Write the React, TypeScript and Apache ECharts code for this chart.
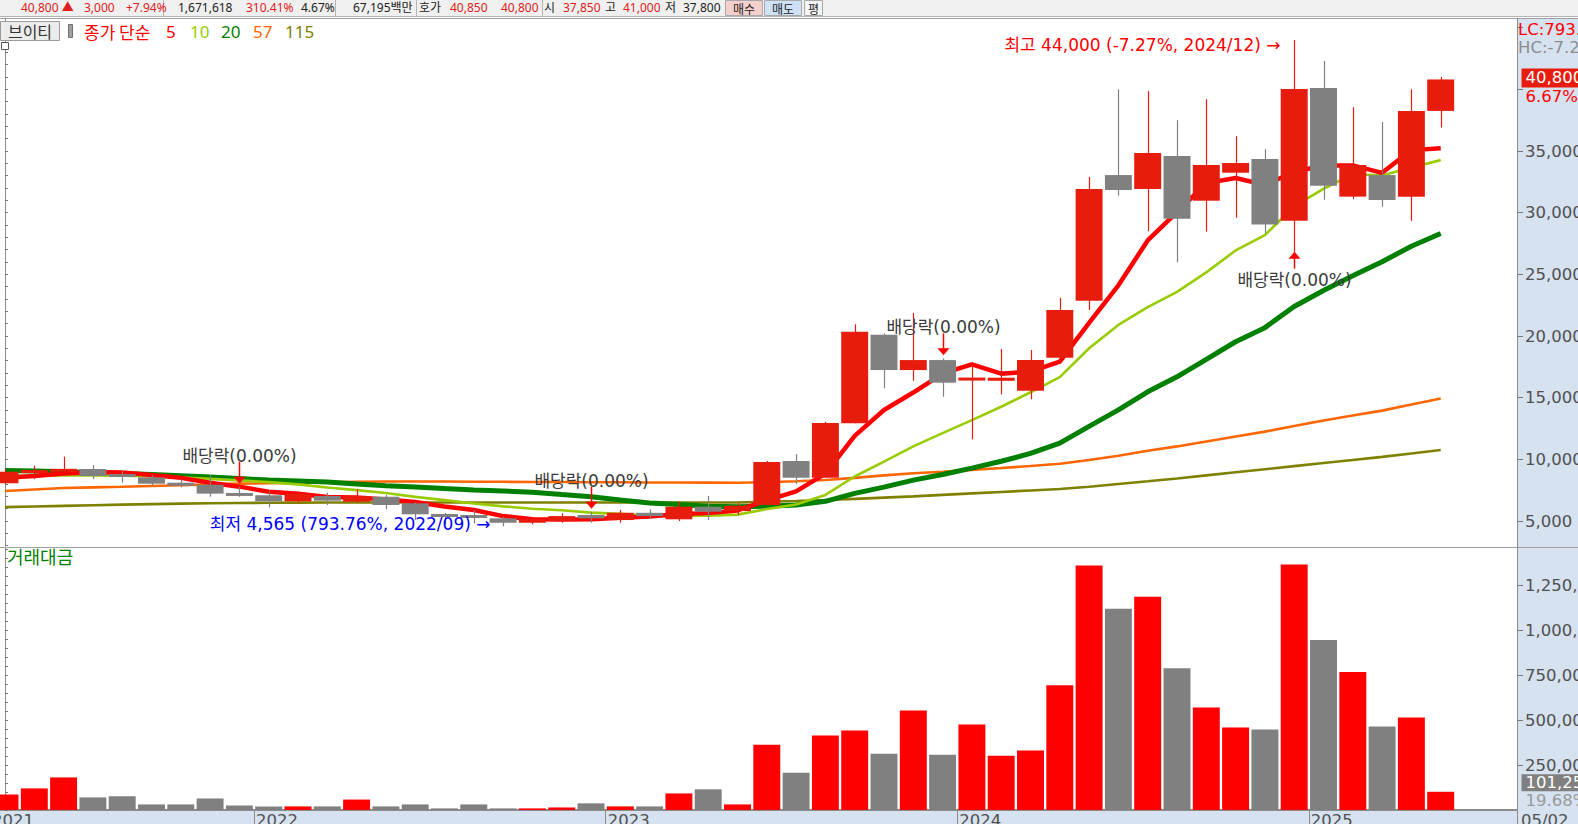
import React, { useEffect, useRef } from "react";
import * as echarts from "echarts";

// ---------------- data ----------------
const MONTHS = [
  "2021/04", "2021/05", "2021/06", "2021/07", "2021/08", "2021/09", "2021/10", "2021/11", "2021/12",
  "2022/01", "2022/02", "2022/03", "2022/04", "2022/05", "2022/06", "2022/07", "2022/08", "2022/09", "2022/10", "2022/11", "2022/12",
  "2023/01", "2023/02", "2023/03", "2023/04", "2023/05", "2023/06", "2023/07", "2023/08", "2023/09", "2023/10", "2023/11", "2023/12",
  "2024/01", "2024/02", "2024/03", "2024/04", "2024/05", "2024/06", "2024/07", "2024/08", "2024/09", "2024/10", "2024/11", "2024/12",
  "2025/01", "2025/02", "2025/03", "2025/04", "2025/05",
];

const OPEN = [8060, 8890, 9000, 9220, 8730, 8540, 8025, 7950, 7220, 7090, 6600, 7030, 6570, 6970, 6435, 5545, 5460, 5220, 4860, 5025, 5490, 5080, 5670, 5140, 6160, 5810, 6300, 9865, 8510, 12920, 20100, 17240, 18050, 16400, 16370, 15565, 18240, 22860, 33050, 31920, 34600, 30970, 33240, 34350, 29350, 40100, 31300, 33050, 31300, 38250];
const HIGH = [9220, 9480, 10220, 9540, 9080, 8730, 8380, 8730, 7780, 7380, 7380, 7300, 7600, 7110, 6520, 5670, 5890, 5350, 5300, 5625, 5760, 5890, 5950, 6565, 7030, 6435, 9865, 10430, 13050, 20950, 20220, 21870, 18190, 17650, 18950, 18865, 23100, 32900, 40000, 39850, 37500, 39200, 36200, 35150, 44000, 42300, 38550, 37350, 40000, 41000];
const LOW = [8000, 8400, 8920, 8400, 8110, 7840, 7730, 6970, 6970, 6110, 6480, 6300, 6480, 5950, 5080, 4735, 4810, 4565, 4735, 4860, 4860, 4860, 5220, 5000, 5080, 5490, 6300, 8000, 8510, 12920, 15760, 16375, 15080, 11620, 15270, 14870, 18000, 22110, 31380, 28500, 25980, 28460, 29590, 28330, 26430, 31050, 31100, 30480, 29330, 36900];
const CLOSE = [9000, 9135, 9220, 8650, 8650, 8025, 7950, 7220, 7090, 6600, 7190, 6650, 7030, 6300, 5545, 5350, 5270, 4860, 5160, 5400, 5220, 5670, 5400, 6160, 5755, 6240, 9780, 8510, 12946, 20350, 17240, 18050, 16215, 16620, 16620, 18050, 22110, 31920, 31840, 34840, 29510, 33865, 34030, 29050, 40030, 32190, 33865, 31030, 38250, 40800];

const VOLUME = [86000, 120000, 181000, 70000, 76000, 31000, 31000, 64000, 25000, 20000, 20000, 20000, 58000, 20000, 31000, 9000, 31000, 9000, 9000, 14000, 37000, 20000, 20000, 92000, 115000, 31000, 363000, 207000, 414000, 442000, 313000, 553000, 307000, 475000, 302000, 330000, 693000, 1359000, 1118000, 1185000, 788000, 570000, 458000, 447000, 1364000, 945000, 766000, 464000, 514500, 101250];

const MA5 = [8500, 8650, 8850, 8950, 8931, 8736, 8499, 8099, 7787, 7377, 7210, 6950, 6912, 6754, 6543, 6175, 5899, 5400, 5150, 5120, 5140, 5262, 5370, 5570, 5641, 5857, 6679, 7400, 8850, 11900, 14000, 15419, 16960, 17695, 16949, 17111, 17923, 21064, 24108, 27751, 30043, 32394, 32816, 32258, 33296, 33832, 33832, 33232, 35072, 35226];
const MA10 = [8650, 8680, 8700, 8700, 8680, 8620, 8540, 8420, 8300, 8154, 7973, 7725, 7506, 7271, 6960, 6693, 6425, 6189, 5996, 5876, 5679, 5581, 5418, 5404, 5425, 5520, 5971, 6336, 7114, 8609, 9811, 11049, 12131, 13177, 14263, 15438, 16671, 19012, 20901, 22350, 23577, 25159, 26940, 28183, 30524, 31938, 33113, 33024, 33665, 34261];
const MA20 = [9100, 9060, 9000, 8930, 8860, 8780, 8680, 8570, 8450, 8320, 8240, 8160, 8000, 7860, 7750, 7630, 7520, 7440, 7340, 7150, 6970, 6700, 6460, 6340, 6200, 6150, 6200, 6300, 6600, 7242, 7745, 8315, 8774, 9290, 9844, 10479, 11321, 12674, 14008, 15480, 16694, 18104, 19535, 20680, 22393, 23688, 24892, 26018, 27283, 28306];
const MA57 = [7430, 7560, 7680, 7730, 7780, 7840, 7900, 7970, 8030, 8060, 8100, 8140, 8180, 8200, 8200, 8200, 8190, 8180, 8170, 8160, 8150, 8140, 8130, 8120, 8110, 8100, 8150, 8220, 8330, 8500, 8700, 8870, 9000, 9150, 9300, 9460, 9650, 9950, 10300, 10700, 11050, 11450, 11850, 12250, 12700, 13150, 13550, 13950, 14450, 14930];
const MA115 = [6130, 6180, 6230, 6280, 6330, 6370, 6410, 6440, 6460, 6480, 6490, 6500, 6500, 6500, 6500, 6500, 6500, 6500, 6500, 6500, 6500, 6500, 6500, 6500, 6500, 6500, 6560, 6620, 6700, 6800, 6900, 7000, 7120, 7240, 7360, 7480, 7600, 7780, 8000, 8220, 8450, 8700, 8950, 9200, 9450, 9700, 9950, 10200, 10480, 10760];

const PRICE_LABELS = [5000, 10000, 15000, 20000, 25000, 30000, 35000];
const PRICE_MAJOR_TICKS = [5000, 10000, 15000, 20000, 25000, 30000, 35000, 40000, 45000];
const VOLUME_LABELS = [250000, 500000, 750000, 1000000, 1250000];

// event markers
const DIVIDEND_DOWN = [8, 20, 32];
const DIVIDEND_UP = [44];
const HIGH_MARK = { index: 44, price: 44000, text: "최고 44,000 (-7.27%, 2024/12) →" };
const LOW_MARK = { index: 17, price: 4565, text: "최저 4,565 (793.76%, 2022/09) →" };
const DIVIDEND_TEXT = "배당락(0.00%)";

const LAST_CHANGE_TEXT = "6.67%";
const LAST_VOLUME_RATIO_TEXT = "19.68%";
const LC_TEXT = "LC:793.76%";
const HC_TEXT = "HC:-7.27%";
const CURRENT_DATE_TEXT = "05/02";
const FIRST_YEAR_TEXT = "2021";

const LEGEND = [
  { text: "종가 단순", x: 84, color: "#ff0000" },
  { text: "5", x: 166, color: "#ff0000" },
  { text: "10", x: 190, color: "#99cc00" },
  { text: "20", x: 221, color: "#008000" },
  { text: "57", x: 253, color: "#ff6600" },
  { text: "115", x: 285, color: "#808000" },
];

const TOP_ITEMS: [string, number, string][] = [
  ["40,800 ▲", 21, "#e02020"], ["3,000", 84, "#e02020"], ["+7.94%", 126, "#e02020"],
  ["1,671,618", 178, "#222"], ["310.41%", 246, "#e02020"], ["4.67%", 301, "#222"],
  ["67,195백만", 353, "#222"], ["호가", 419, "#222"], ["40,850", 450, "#e02020"], ["40,800", 501, "#e02020"],
  ["시", 544, "#222"], ["37,850", 563, "#e02020"], ["고", 605, "#222"], ["41,000", 623, "#e02020"],
  ["저", 665, "#222"], ["37,800", 683, "#222"],
];
const TOP_DIVIDERS = [163, 335, 416, 542];
const TOP_BUTTONS: [string, number, number, string][] = [
  ["매수", 725, 37, "#f4cfcc"], ["매도", 764, 37, "#cfe1f6"], ["평", 804, 18, "#f6f6f6"],
];

// ---------------- style ----------------
const KR = '"Noto Sans CJK KR", "Noto Sans", sans-serif';
const NUM = '"Noto Sans", "Noto Sans CJK KR", sans-serif';
const WIDE = '"DejaVu Sans", "Noto Sans CJK KR", sans-serif';
const AXIS_FS = 16.5;
const CANDLE_UP = "#e81c0c";
const CANDLE_DOWN = "#808080";
const VOL_UP = "#ff0000";
const VOL_DOWN = "#808080";
const STRIP = "#d6e2f0";
const AXIS_GREY = "#8c8c8c";
const AXIS_TEXT = "#505050";

const PLOT_W = 1517;
const SLOT = 29.3;
const X_MIN = -5 / SLOT;
const X_MAX = X_MIN + PLOT_W / SLOT;

const fmt = (v: number) => Math.round(v).toLocaleString("en-US");

const YEAR_TICKS: number[] = [];
const YEAR_NAMES: string[] = [];
MONTHS.forEach((m, i) => {
  if (m.endsWith("/01")) {
    YEAR_TICKS.push(i - 0.5);
    YEAR_NAMES.push(m.slice(0, 4));
  }
});

function txt(text: string, x: number, y: number, fill: string, size: number, family: string, align = "left", valign = "middle") {
  return {
    type: "text",
    x,
    y,
    z: 100,
    silent: true,
    style: {
      text,
      fill,
      fontSize: size,
      fontFamily: family,
      align,
      textAlign: align,
      verticalAlign: valign,
      textVerticalAlign: valign,
    },
  };
}

function buildOption() {
  const candleData = MONTHS.map((_, i) => [i, OPEN[i], CLOSE[i], LOW[i], HIGH[i]]);
  const volumeData = MONTHS.map((_, i) => [i, VOLUME[i], CLOSE[i] >= OPEN[i] ? 1 : 0]);
  const eventData: number[][] = [];
  DIVIDEND_DOWN.forEach((i) => eventData.push([i, HIGH[i], 0]));
  DIVIDEND_UP.forEach((i) => eventData.push([i, LOW[i], 1]));
  eventData.push([HIGH_MARK.index, HIGH_MARK.price, 2]);
  eventData.push([LOW_MARK.index, LOW_MARK.price, 3]);
  const last = MONTHS.length - 1;

  const renderCandle = (params: any, api: any) => {
    const x = api.value(0), o = api.value(1), c = api.value(2), l = api.value(3), h = api.value(4);
    const color = c >= o ? CANDLE_UP : CANDLE_DOWN;
    const pO = api.coord([x, o]), pC = api.coord([x, c]), pL = api.coord([x, l]), pH = api.coord([x, h]);
    const bw = api.size([1, 0])[0] * 0.92;
    const cx = Math.round(pO[0]) + 0.5;
    let top = Math.min(pO[1], pC[1]);
    let bh = Math.abs(pO[1] - pC[1]);
    if (bh < 3) {
      top -= (3 - bh) / 2;
      bh = 3;
    }
    return {
      type: "group",
      children: [
        { type: "line", shape: { x1: cx, y1: pH[1], x2: cx, y2: pL[1] }, style: { stroke: color, lineWidth: 1.2 } },
        { type: "rect", shape: { x: pO[0] - bw / 2, y: top, width: bw, height: bh }, style: { fill: color } },
      ],
    };
  };

  const renderVolume = (params: any, api: any) => {
    const x = api.value(0), v = api.value(1), up = api.value(2);
    const p0 = api.coord([x, 0]), p1 = api.coord([x, v]);
    const bw = api.size([1, 0])[0] * 0.92;
    return {
      type: "rect",
      shape: { x: p1[0] - bw / 2, y: p1[1], width: bw, height: p0[1] - p1[1] },
      style: { fill: up ? VOL_UP : VOL_DOWN },
    };
  };

  const renderEvent = (params: any, api: any) => {
    const x = api.value(0), v = api.value(1), kind = api.value(2);
    const p = api.coord([x, v]);
    const px = Math.round(p[0]) + 0.5;
    if (kind === 0) {
      const tip = p[1] - 3;
      return {
        type: "group",
        children: [
          { type: "line", shape: { x1: px, y1: tip - 22, x2: px, y2: tip - 6 }, style: { stroke: "#ff0000", lineWidth: 1.5 } },
          { type: "polygon", shape: { points: [[px - 6, tip - 7], [px + 6, tip - 7], [px, tip]] }, style: { fill: "#ff0000" } },
          txt(DIVIDEND_TEXT, px, tip - 28, "#3a3a3a", 17, WIDE, "center"),
        ],
      };
    }
    if (kind === 1) {
      const tip = p[1] - 5;
      return {
        type: "group",
        children: [
          { type: "line", shape: { x1: px, y1: tip + 6, x2: px, y2: tip + 17 }, style: { stroke: "#ff0000", lineWidth: 1.5 } },
          { type: "polygon", shape: { points: [[px - 6, tip + 7], [px + 6, tip + 7], [px, tip]] }, style: { fill: "#ff0000" } },
          txt(DIVIDEND_TEXT, px, tip + 28, "#3a3a3a", 17, WIDE, "center"),
        ],
      };
    }
    if (kind === 2) {
      return txt(HIGH_MARK.text, px - 14, p[1] + 5, "#ff0000", 17, WIDE, "right");
    }
    return txt(LOW_MARK.text, px - 13, p[1] - 2, "#0000ff", 17, WIDE, "right");
  };

  const renderLastPrice = (params: any, api: any) => {
    const cs = params.coordSys;
    const v = api.value(1);
    const p = api.coord([api.value(0), v]);
    const x0 = cs.x + cs.width + 4.5;
    const cy = p[1] - 1.5;
    return {
      type: "group",
      children: [
        { type: "rect", shape: { x: x0, y: cy - 9.5, width: 80, height: 19 }, style: { fill: "#e81c0c" } },
        txt(fmt(v), x0 + 4, cy, "#ffffff", AXIS_FS, WIDE),
        txt(LAST_CHANGE_TEXT, x0 + 4, cy + 19, "#ff0000", AXIS_FS, WIDE),
      ],
    };
  };

  const renderLastVolume = (params: any, api: any) => {
    const cs = params.coordSys;
    const v = api.value(1);
    const p = api.coord([api.value(0), v]);
    const x0 = cs.x + cs.width + 4.5;
    const cy = p[1] - 9;
    return {
      type: "group",
      children: [
        { type: "rect", shape: { x: x0, y: cy - 8.5, width: 80, height: 17 }, style: { fill: "#808080" } },
        txt(fmt(v), x0 + 4, cy, "#ffffff", AXIS_FS, WIDE),
        txt(LAST_VOLUME_RATIO_TEXT, x0 + 4, cy + 18, "#9a9a9a", AXIS_FS, WIDE),
      ],
    };
  };

  const maLine = (name: string, data: number[], color: string, width: number, z: number) => ({
    name,
    type: "line",
    xAxisIndex: 0,
    yAxisIndex: 0,
    data: data.map((v, i) => [i, v]),
    symbol: "none",
    silent: true,
    z,
    lineStyle: { color, width },
  });

  const graphic: any[] = [
    { type: "rect", z: -100, silent: true, shape: { x: PLOT_W, y: 18, width: 1578 - PLOT_W, height: 806 }, style: { fill: STRIP } },
    { type: "rect", z: -100, silent: true, shape: { x: 0, y: 811, width: 1578, height: 13 }, style: { fill: STRIP } },
    { type: "rect", z: 50, silent: true, shape: { x: 0, y: 0, width: 1578, height: 16 }, style: { fill: "#f0f0f0" } },
    { type: "line", z: 50, silent: true, shape: { x1: 0, y1: 16.5, x2: 1578, y2: 16.5 }, style: { stroke: "#b4b4b4", lineWidth: 1 } },
    { type: "line", z: 50, silent: true, shape: { x1: 0, y1: 18.5, x2: 1578, y2: 18.5 }, style: { stroke: "#a0a0a0", lineWidth: 1 } },
    { type: "line", z: 50, silent: true, shape: { x1: 0, y1: 547.5, x2: 1578, y2: 547.5 }, style: { stroke: "#a0a0a0", lineWidth: 1 } },
    { type: "line", z: 50, silent: true, shape: { x1: PLOT_W + 0.5, y1: 18, x2: PLOT_W + 0.5, y2: 824 }, style: { stroke: AXIS_GREY, lineWidth: 1 } },
  ];
  TOP_DIVIDERS.forEach((x) =>
    graphic.push({ type: "line", z: 60, silent: true, shape: { x1: x + 0.5, y1: 0, x2: x + 0.5, y2: 16 }, style: { stroke: "#b4b4b4", lineWidth: 1 } })
  );
  TOP_ITEMS.forEach(([t, x, c]) => graphic.push(txt(t, x, 7, c, 12, NUM)));
  TOP_BUTTONS.forEach(([t, x, w, c]) => {
    graphic.push({ type: "rect", z: 60, silent: true, shape: { x: x + 0.5, y: 0.5, width: w, height: 15 }, style: { fill: c, stroke: "#a8a8a8", lineWidth: 1 } });
    graphic.push(txt(t, x + w / 2 + 0.5, 8, "#222", 12, KR, "center"));
  });
  graphic.push({ type: "rect", z: 60, silent: true, shape: { x: 0.5, y: 21.5, width: 59, height: 19 }, style: { fill: "#ececec", stroke: "#9a9a9a", lineWidth: 1 } });
  graphic.push(txt("브이티", 30, 31, "#333", 16, KR, "center"));
  graphic.push({ type: "rect", z: 60, silent: true, shape: { x: 68.5, y: 24.5, width: 4, height: 13 }, style: { fill: "#a0a0a0", stroke: "#707070", lineWidth: 1 } });
  graphic.push({ type: "rect", z: 60, silent: true, shape: { x: 1.5, y: 42.5, width: 7, height: 7 }, style: { fill: "#ffffff", stroke: "#555", lineWidth: 1 } });
  LEGEND.forEach((l) => graphic.push(txt(l.text, l.x, 31, l.color, 17, /[가-힣]/.test(l.text) ? KR : NUM)));
  graphic.push(txt(LC_TEXT, 1518, 29, "#ff0000", AXIS_FS, WIDE));
  graphic.push(txt(HC_TEXT, 1518, 47, "#8c8c8c", AXIS_FS, WIDE));
  graphic.push(txt("거래대금", 7, 556, "#008000", 18, KR));
  graphic.push(txt(FIRST_YEAR_TEXT, -8, 812, AXIS_TEXT, AXIS_FS, WIDE, "left", "top"));
  graphic.push(txt(CURRENT_DATE_TEXT, 1521, 812, AXIS_TEXT, AXIS_FS, WIDE, "left", "top"));

  return {
    animation: false,
    backgroundColor: "#ffffff",
    textStyle: { fontFamily: NUM },
    grid: [
      { left: 0, top: 18, width: PLOT_W, height: 527.7, outerBoundsMode: "none", containLabel: false },
      { left: 0, top: 547, width: PLOT_W, height: 263, outerBoundsMode: "none", containLabel: false },
    ],
    xAxis: [
      { type: "value", gridIndex: 0, min: X_MIN, max: X_MAX, show: false },
      {
        type: "value",
        gridIndex: 1,
        min: X_MIN,
        max: X_MAX,
        axisLine: { show: true, onZero: false, lineStyle: { color: AXIS_GREY, width: 2 } },
        axisTick: { show: true, customValues: YEAR_TICKS, length: 15, lineStyle: { color: AXIS_GREY, width: 1 } },
        axisLabel: {
          show: true,
          customValues: YEAR_TICKS,
          formatter: (v: number) => {
            const k = YEAR_TICKS.findIndex((t) => Math.abs(t - v) < 0.01);
            return k >= 0 ? YEAR_NAMES[k] : "";
          },
          align: "left",
          margin: 2,
          padding: [0, 0, 0, 2],
          color: AXIS_TEXT,
          fontSize: AXIS_FS,
          fontFamily: WIDE,
        },
        splitLine: { show: false },
      },
    ],
    yAxis: [
      {
        type: "value",
        gridIndex: 0,
        position: "right",
        min: 3000,
        max: 45784,
        interval: 1000,
        axisLine: { show: true, lineStyle: { color: AXIS_GREY, width: 1 } },
        axisTick: { show: true, length: 3, lineStyle: { color: "#777" } },
        axisLabel: { show: true, customValues: PRICE_LABELS, formatter: fmt, margin: 8, color: AXIS_TEXT, fontSize: AXIS_FS, fontFamily: WIDE },
        splitLine: { show: false },
      },
      {
        type: "value",
        gridIndex: 0,
        position: "right",
        min: 3000,
        max: 45784,
        axisLine: { show: false },
        axisTick: { show: true, customValues: PRICE_MAJOR_TICKS, length: 6, lineStyle: { color: "#777" } },
        axisLabel: { show: false },
        splitLine: { show: false },
      },
      {
        type: "value",
        gridIndex: 1,
        position: "right",
        min: 0,
        max: 1461111,
        interval: 50000,
        axisLine: { show: true, lineStyle: { color: AXIS_GREY, width: 1 } },
        axisTick: { show: true, length: 3, lineStyle: { color: "#777" } },
        axisLabel: { show: true, customValues: VOLUME_LABELS, formatter: fmt, margin: 8, color: AXIS_TEXT, fontSize: AXIS_FS, fontFamily: WIDE },
        splitLine: { show: false },
      },
      {
        type: "value",
        gridIndex: 1,
        position: "right",
        min: 0,
        max: 1461111,
        axisLine: { show: false },
        axisTick: { show: true, customValues: VOLUME_LABELS, length: 6, lineStyle: { color: "#777" } },
        axisLabel: { show: false },
        splitLine: { show: false },
      },
    ],
    series: [
      maLine("115", MA115, "#808000", 2.6, 2),
      maLine("57", MA57, "#ff6600", 2.6, 2),
      maLine("20", MA20, "#008000", 5, 2),
      maLine("10", MA10, "#99cc00", 2.6, 2),
      maLine("5", MA5, "#ff0000", 4.5, 2),
      {
        name: "candles",
        type: "custom",
        xAxisIndex: 0,
        yAxisIndex: 0,
        z: 5,
        silent: true,
        data: candleData,
        encode: { x: 0, y: [1, 2, 3, 4] },
        renderItem: renderCandle,
      },
      {
        name: "events",
        type: "custom",
        xAxisIndex: 0,
        yAxisIndex: 0,
        z: 6,
        silent: true,
        clip: false,
        data: eventData,
        encode: { x: 0, y: 1 },
        renderItem: renderEvent,
      },
      {
        name: "lastPrice",
        type: "custom",
        xAxisIndex: 0,
        yAxisIndex: 0,
        z: 20,
        silent: true,
        clip: false,
        data: [[last, CLOSE[last]]],
        encode: { x: 0, y: 1 },
        renderItem: renderLastPrice,
      },
      {
        name: "거래대금",
        type: "custom",
        xAxisIndex: 1,
        yAxisIndex: 2,
        z: 5,
        silent: true,
        data: volumeData,
        encode: { x: 0, y: 1 },
        renderItem: renderVolume,
      },
      {
        name: "lastVolume",
        type: "custom",
        xAxisIndex: 1,
        yAxisIndex: 2,
        z: 20,
        silent: true,
        clip: false,
        data: [[last, VOLUME[last]]],
        encode: { x: 0, y: 1 },
        renderItem: renderLastVolume,
      },
    ],
    graphic,
  };
}

export default function App() {
  const ref = useRef<HTMLDivElement>(null);
  useEffect(() => {
    if (!ref.current) return;
    const chart = echarts.init(ref.current, null, { renderer: "svg" });
    chart.setOption(buildOption() as any);
    return () => chart.dispose();
  }, []);
  return (
    <div
      ref={ref}
      style={{ position: "fixed", left: 0, top: 0, width: 1578, height: 824, background: "#ffffff", overflow: "hidden" }}
    />
  );
}
